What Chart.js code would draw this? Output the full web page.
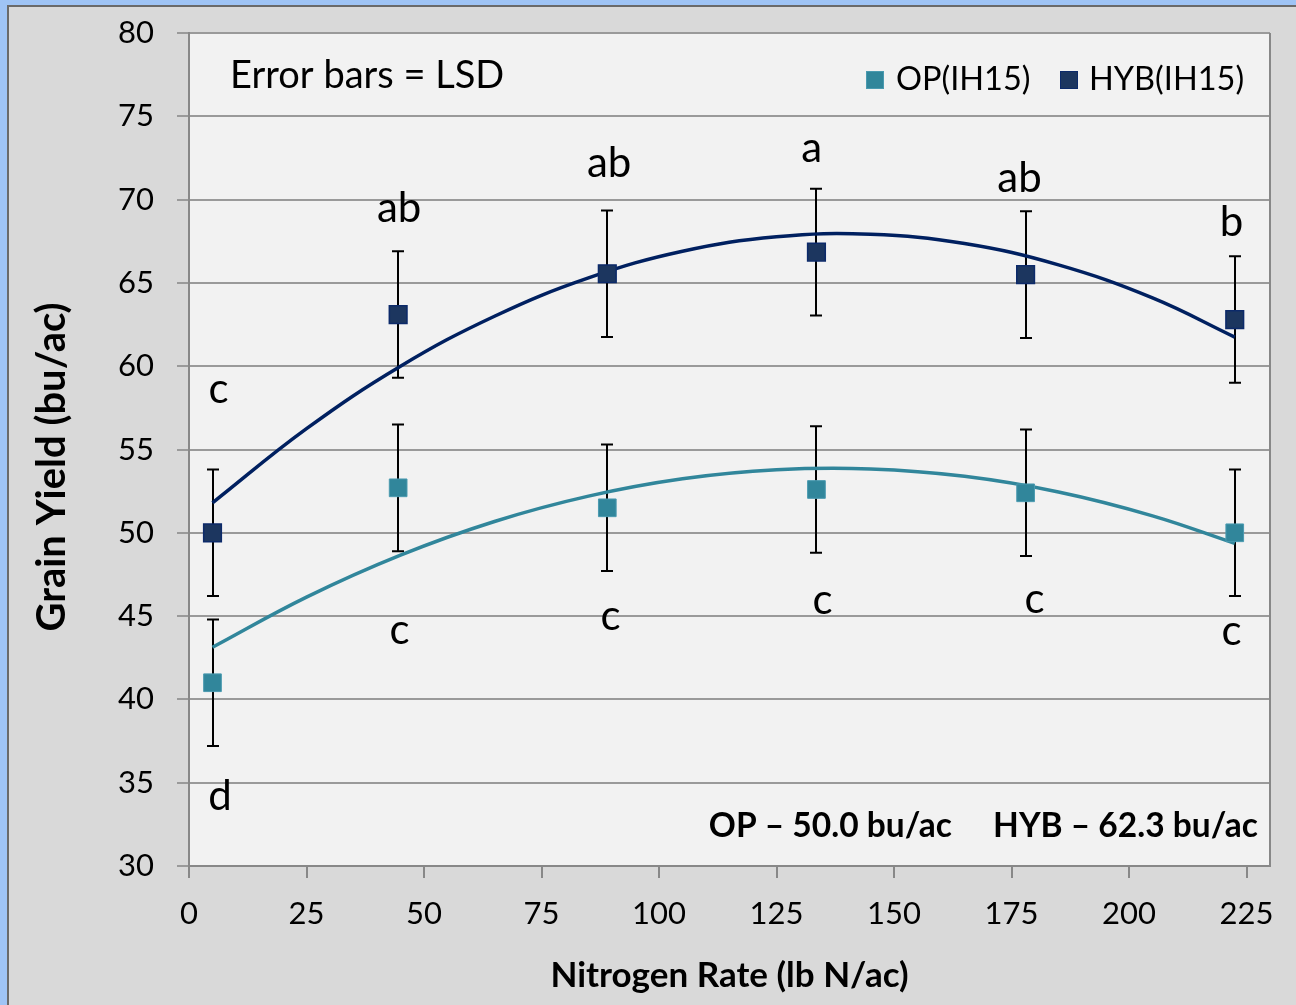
<!DOCTYPE html>
<html>
<head>
<meta charset="utf-8">
<script src="https://cdn.jsdelivr.net/npm/chart.js@4.4.1/dist/chart.umd.min.js"></script>
<style>
  html, body { margin: 0; padding: 0; width: 1296px; height: 1005px; overflow: hidden; background: #9fc4f5; }
  #frame { position: absolute; left: 7px; top: 5px; width: 1400px; height: 1100px; border: 2px solid #6a6a6a; background: #d9d9d9; }
  #wrap { position: absolute; left: 0; top: 0; width: 1296px; height: 1005px; }
</style>
</head>
<body>
<div id="frame"></div>
<div id="wrap"><canvas id="c" width="1296" height="1005"></canvas></div>
<script>
// ---- data ----
const nRates = [5, 44.5, 89, 133.5, 178, 222.5];
const opYield = [41.0, 52.7, 51.5, 52.6, 52.4, 50.0];
const hybYield = [50.0, 63.1, 65.55, 66.85, 65.5, 62.8];
const opErr = [3.8, 3.8, 3.8, 3.8, 3.8, 3.8];
const hybErr = [3.8, 3.8, 3.8, 3.8, 3.8, 3.8];
const opLetters = ['d', 'c', 'c', 'c', 'c', 'c'];
const opLetterX = [6.6, 44.8, 89.7, 134.8, 179.9, 221.8];
const opLetterY = [33.36, 43.32, 44.17, 45.1, 45.2, 43.27];
const hybLetters = ['c', 'ab', 'ab', 'a', 'ab', 'b'];
const hybLetterX = [6.3, 44.7, 89.4, 132.5, 176.7, 221.8];
const hybLetterY = [57.79, 68.65, 71.36, 72.26, 70.46, 67.8];
// trendline points
const trendX = [5, 25, 45, 65, 85, 105, 125, 145, 165, 185, 205, 222.5];
const hybTrendY = [51.8, 56.25, 60.0, 63.0, 65.3, 66.9, 67.77, 67.92, 67.36, 66.08, 64.1, 61.75];
const opTrendY = [43.13, 46.14, 48.66, 50.68, 52.2, 53.24, 53.78, 53.83, 53.39, 52.45, 51.02, 49.37];
const seriesNames = ['OP(IH15)', 'HYB(IH15)'];
const xTitle = 'Nitrogen Rate (lb N/ac)';
const yTitle = 'Grain Yield (bu/ac)';
const noteText = 'Error bars = LSD';
const meanTexts = ['OP \u2013 50.0 bu/ac', 'HYB \u2013 62.3 bu/ac'];

const OP_COL = '#31869b';
const HYB_COL = '#1c365f';
const FONT = 'Lato, "Open Sans", sans-serif';

const pts = (xs, ys) => xs.map((x, i) => ({x: x, y: ys[i]}));

const decor = {
  id: 'decor',
  beforeDraw(chart) {
    const {ctx, chartArea: a} = chart;
    ctx.save();
    ctx.fillStyle = '#f2f2f2';
    ctx.fillRect(a.left, a.top, a.right - a.left, a.bottom - a.top);
    ctx.restore();
  },
  beforeDatasetsDraw(chart) {
    const {ctx, chartArea: a, scales: {x, y}} = chart;
    ctx.save();
    ctx.strokeStyle = '#888888';
    ctx.lineWidth = 2;
    ctx.beginPath();
    ctx.moveTo(a.right, a.top); ctx.lineTo(a.right, a.bottom);
    ctx.stroke();
    ctx.strokeStyle = '#000';
    ctx.lineWidth = 2;
    const drawErr = (vals, errs) => {
      vals.forEach((v, i) => {
        const px = Math.round(x.getPixelForValue(nRates[i]));
        const t = y.getPixelForValue(v + errs[i]);
        const b = y.getPixelForValue(v - errs[i]);
        ctx.beginPath();
        ctx.moveTo(px, t); ctx.lineTo(px, b);
        ctx.moveTo(px - 6, t); ctx.lineTo(px + 6, t);
        ctx.moveTo(px - 6, b); ctx.lineTo(px + 6, b);
        ctx.stroke();
      });
    };
    drawErr(opYield, opErr);
    drawErr(hybYield, hybErr);
    ctx.restore();
  },
  afterDatasetsDraw(chart) {
    const {ctx, scales: {x, y}} = chart;
    ctx.save();
    ctx.fillStyle = '#000';
    ctx.font = '42px ' + FONT;
    ctx.textAlign = 'center';
    ctx.textBaseline = 'alphabetic';
    hybLetters.forEach((l, i) => ctx.fillText(l, x.getPixelForValue(hybLetterX[i]), y.getPixelForValue(hybLetterY[i])));
    opLetters.forEach((l, i) => ctx.fillText(l, x.getPixelForValue(opLetterX[i]), y.getPixelForValue(opLetterY[i])));
    ctx.textAlign = 'left';
    ctx.textBaseline = 'middle';
    ctx.font = '38px ' + FONT;
    ctx.fillText(noteText, 230, 76);
    ctx.font = '32.5px ' + FONT;
    const legend = [[866, OP_COL, '#4a9ab0', seriesNames[0], 896], [1060, HYB_COL, '#0c2a6a', seriesNames[1], 1089]];
    legend.forEach(([sx, fill, border, txt, tx]) => {
      ctx.fillStyle = fill;
      ctx.fillRect(sx, 71, 18, 18);
      ctx.strokeStyle = border; ctx.lineWidth = 1;
      ctx.strokeRect(sx + 0.5, 71.5, 17, 17);
      ctx.fillStyle = '#000';
      ctx.fillText(txt, tx, 80);
    });
    ctx.font = 'bold 33.5px ' + FONT;
    ctx.textAlign = 'right';
    ctx.fillText(meanTexts[1], 1258, 826);
    ctx.fillText(meanTexts[0], 952, 826);
    // y axis title
    ctx.translate(52, 467);
    ctx.rotate(-Math.PI / 2);
    ctx.textAlign = 'center';
    ctx.textBaseline = 'middle';
    ctx.font = 'bold 40px ' + FONT;
    ctx.fillText(yTitle, 0, 0);
    ctx.restore();
  }
};

new Chart(document.getElementById('c'), {
  type: 'scatter',
  data: {
    datasets: [
      { label: seriesNames[0], data: pts(nRates, opYield), backgroundColor: OP_COL, borderColor: '#4a9ab0', borderWidth: 1,
        pointStyle: 'rect', pointRadius: 12.5, pointHoverRadius: 12.5, showLine: false, order: 0 },
      { label: seriesNames[1], data: pts(nRates, hybYield), backgroundColor: HYB_COL, borderColor: '#0c2a6a', borderWidth: 1.5,
        pointStyle: 'rect', pointRadius: 12.5, pointHoverRadius: 12.5, showLine: false, order: 0 },
      { label: 'OP trend', data: pts(trendX, opTrendY), showLine: true, borderColor: OP_COL, borderWidth: 3.5,
        pointRadius: 0, tension: 0.4, fill: false, order: 1 },
      { label: 'HYB trend', data: pts(trendX, hybTrendY), showLine: true, borderColor: '#002060', borderWidth: 3.5,
        pointRadius: 0, tension: 0.4, fill: false, order: 1 }
    ]
  },
  options: {
    responsive: false,
    animation: false,
    events: [],
    layout: { padding: { top: 33, right: 26, left: 0, bottom: 0 } },
    plugins: { legend: { display: false }, tooltip: { enabled: false } },
    scales: {
      x: {
        type: 'linear', min: 0, max: 230,
        ticks: { stepSize: 25, includeBounds: false, color: '#000', font: { family: FONT, size: 31 }, padding: 17, maxRotation: 0 },
        grid: { display: true, drawOnChartArea: false, drawTicks: true, tickLength: 12, color: '#888888', lineWidth: 2 },
        border: { display: true, color: '#888888', width: 2 },
        title: { display: true, text: xTitle, color: '#000', font: { family: FONT, size: 35, weight: 'bold' }, padding: { top: 0, bottom: 8 } },
        afterFit(s) { s.height = 139; s.paddingLeft = 0; s.paddingRight = 0; }
      },
      y: {
        type: 'linear', min: 30, max: 80,
        ticks: { stepSize: 5, color: '#000', font: { family: FONT, size: 31 }, padding: 23 },
        grid: { color: '#9a9a9a', lineWidth: 2, tickLength: 12, drawTicks: true },
        border: { display: true, color: '#888888', width: 2 },
        title: { display: false, text: yTitle },
        afterFit(s) { s.width = 189; s.paddingTop = 0; s.paddingBottom = 0; }
      }
    }
  },
  plugins: [decor]
});
</script>
</body>
</html>
